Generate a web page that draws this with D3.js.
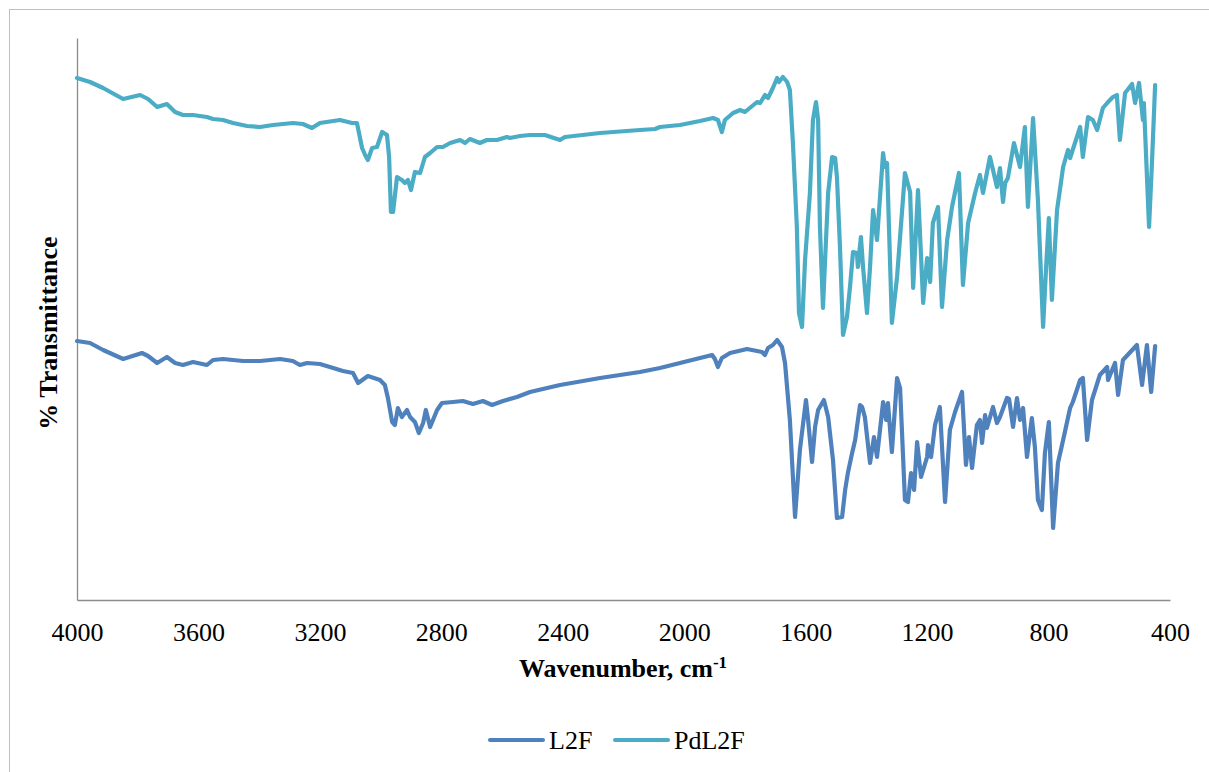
<!DOCTYPE html>
<html>
<head>
<meta charset="utf-8">
<script src="https://cdn.jsdelivr.net/npm/d3@7"></script>
<style>
  body { margin: 0; background: #fff; }
  svg text { font-family: "Liberation Serif", "Times New Roman", serif; fill: #000; }
</style>
</head>
<body>
<div id="chart"></div>
<script>
// ---- data (wavenumber cm-1, % transmittance, arbitrary offset) ----
const xTicks = [4000, 3600, 3200, 2800, 2400, 2000, 1600, 1200, 800, 400];
const seriesNames = ["L2F", "PdL2F"];

const l2fWn = [4000,3957,3914,3848,3786,3766,3736,3704,3677,3651,3618,3572,3552,3519,3453,3397,3331,3289,3266,3242,3200,
  3167,3124,3091,3074,3042,3002,2986,2976,2962,2953,2943,2930,2913,2903,2887,2874,2860,2851,2837,2814,2798,2762,2729,2696,
  2663,2633,2597,2551,2508,2409,2277,2146,2080,2014,1948,1908,1899,1889,1876,1849,1793,1744,1734,1724,1708,1694,1678,1668,
  1652,1635,1619,1599,1592,1579,1569,1559,1540,1526,1510,1497,1480,1470,1461,1447,1437,1421,1414,1405,1388,1375,1365,1345,
  1335,1329,1316,1299,1289,1273,1263,1253,1243,1233,1220,1200,1197,1187,1174,1158,1141,1125,1108,1085,1072,1062,1052,1036,
  1026,1019,1009,1003,983,970,960,937,930,917,904,894,884,871,855,845,835,822,812,799,785,769,752,729,720,696,687,673,657,
  631,607,604,581,571,555,509,492,476,462,449];
const l2fT = [25.9,25.7,25.0,24.1,24.7,24.4,23.7,24.3,23.7,23.5,23.8,23.5,24.0,24.1,23.9,23.9,24.1,23.9,23.5,23.7,23.6,
  23.3,22.9,22.7,21.7,22.4,22.0,21.5,20.2,17.8,17.5,19.2,18.3,19.0,18.3,17.8,16.7,17.7,19.0,17.3,19.0,19.7,19.8,19.9,19.6,
  19.9,19.5,19.9,20.3,20.8,21.5,22.2,22.8,23.2,23.7,24.2,24.5,24.1,23.3,24.2,24.7,25.1,24.8,24.5,25.2,25.5,26.0,25.3,23.7,
  18.0,8.3,15.0,20.0,18.0,13.8,17.3,19.0,20.0,18.3,14.0,8.2,8.3,11.0,12.7,14.7,16.0,19.5,19.3,18.3,13.7,16.3,14.3,19.8,
  18.0,19.7,14.8,22.2,21.2,10.0,9.8,12.7,11.0,15.8,12.3,14.3,15.5,14.3,17.5,19.3,9.8,17.0,18.8,20.8,13.5,16.3,13.2,17.5,
  18.0,15.7,18.5,17.2,19.3,17.7,18.3,20.2,20.1,17.3,20.2,18.0,19.2,14.3,18.2,15.3,10.0,9.0,14.7,17.8,7.2,13.7,16.0,19.2,19.8,22.0,22.2,16.0,20.0,
  22.5,23.3,22.0,23.7,20.5,24.0,25.5,21.5,25.5,20.8,25.4];

const pdWn = [4000,3957,3914,3848,3792,3766,3736,3704,3677,3651,3618,3572,3552,3519,3486,3440,3397,3354,3289,3256,3226,3200,
  3134,3094,3078,3061,3051,3042,3028,3012,2995,2979,2972,2966,2959,2946,2930,2920,2910,2900,2887,2870,2854,2837,2814,2795,
  2771,2738,2722,2706,2673,2650,2617,2584,2574,2541,2508,2459,2409,2393,2277,2146,2096,2080,2014,1948,1905,1889,1876,1866,
  1839,1816,1800,1760,1750,1734,1724,1708,1694,1688,1675,1661,1652,1642,1629,1622,1612,1602,1586,1576,1566,1559,1553,1543,
  1536,1526,1513,1503,1497,1487,1477,1464,1454,1444,1431,1428,1418,1411,1398,1388,1378,1365,1345,1339,1332,1316,1299,1273,
  1256,1246,1230,1213,1200,1190,1181,1164,1151,1134,1118,1095,1082,1065,1042,1026,1016,993,983,970,960,950,943,934,914,894,
  878,868,851,835,818,808,799,789,772,752,736,729,696,687,670,654,640,621,604,588,575,565,548,525,515,502,489,486,469,459,449];
const pdT = [52.2,51.8,51.2,50.1,50.5,50.1,49.3,49.6,48.8,48.5,48.5,48.3,48.1,48.0,47.7,47.4,47.3,47.5,47.7,47.6,47.2,47.7,
  48.0,47.7,47.7,45.2,44.5,44.0,45.2,45.3,46.8,46.5,44.3,38.8,38.8,42.3,42.0,41.7,42.0,41.0,42.8,42.7,44.3,44.7,45.3,45.3,
  45.7,46.0,45.7,46.1,45.7,46.0,46.0,46.3,46.2,46.4,46.5,46.5,46.0,46.3,46.7,47.0,47.1,47.3,47.5,47.9,48.2,48.0,46.8,48.0,
  48.7,49.0,48.8,49.8,49.7,50.5,50.2,51.2,52.2,51.8,52.3,51.8,51.0,45.7,37.3,28.7,27.3,34.0,40.7,48.0,49.8,48.0,37.3,29.2,
  34.0,40.7,44.3,44.2,42.3,35.3,26.5,28.3,31.3,34.8,34.7,33.3,36.3,33.3,28.7,33.3,39.0,36.0,44.7,43.3,43.7,27.7,32.3,42.7,
  40.8,31.2,41.0,29.7,34.2,31.8,37.7,39.3,29.3,36.0,39.3,42.7,31.5,37.7,40.7,42.5,40.7,44.3,43.0,41.3,43.2,39.8,41.7,42.2,45.7,43.3,
  47.3,39.3,48.2,40.0,27.3,33.3,38.2,30.0,39.0,43.3,45.0,44.2,47.3,44.3,48.3,48.0,47.0,49.2,49.8,50.3,50.5,46.0,50.7,51.6,49.7,51.7,48.0,49.7,37.3,44.0,51.5];

const colors = { "L2F": "#4F81BD", "PdL2F": "#4BACC6" };

// ---- layout ----
const W = 1209, H = 772;
const plot = { left: 77, right: 1170, top: 38, bottom: 600 };

const svg = d3.select("#chart").append("svg")
  .attr("width", W).attr("height", H);

// outer chart border
svg.append("rect")
  .attr("x", 9.5).attr("y", 9.5)
  .attr("width", 1215).attr("height", 790)
  .attr("fill", "none").attr("stroke", "#bfbfbf").attr("stroke-width", 1);

const x = d3.scaleLinear().domain([4000, 400]).range([plot.left, plot.right]);
const y = d3.scaleLinear().domain([0, 56.2]).range([plot.bottom, plot.top]);

// x axis: line + labels, no tick marks
const xAxis = svg.append("g")
  .attr("transform", `translate(0,${plot.bottom})`)
  .call(d3.axisBottom(x).tickValues(xTicks).tickSize(0).tickPadding(23).tickFormat(d3.format("d")));
xAxis.select(".domain").attr("stroke", "#8c8c8c").attr("stroke-width", 1.3);
xAxis.selectAll("text")
  .style("font-size", "26px")
  .style("font-family", "'Liberation Serif', serif")
  .attr("fill", "#000");

// y axis: just the line
const yAxis = svg.append("g")
  .attr("transform", `translate(${plot.left},0)`)
  .call(d3.axisLeft(y).tickValues([]).tickSize(0));
yAxis.select(".domain").attr("stroke", "#8c8c8c").attr("stroke-width", 1.3);

// axis titles
const xTitle = svg.append("text")
  .attr("x", 623).attr("y", 677)
  .attr("text-anchor", "middle")
  .style("font-size", "26px").style("font-weight", "bold");
xTitle.append("tspan").text("Wavenumber, cm");
xTitle.append("tspan").attr("dy", -9).style("font-size", "17px").text("-1");

svg.append("text")
  .attr("transform", "translate(57,333) rotate(-90)")
  .attr("text-anchor", "middle")
  .style("font-size", "26px").style("font-weight", "bold")
  .text("% Transmittance");

// ---- spectra ----
const line = d3.line().x(d => x(d[0])).y(d => y(d[1]));
const series = [
  { name: "L2F", pts: d3.zip(l2fWn, l2fT) },
  { name: "PdL2F", pts: d3.zip(pdWn, pdT) }
];

svg.append("g")
  .selectAll("path")
  .data(series)
  .join("path")
    .attr("d", d => line(d.pts))
    .attr("fill", "none")
    .attr("stroke", d => colors[d.name])
    .attr("stroke-width", 4.2)
    .attr("stroke-linejoin", "round")
    .attr("stroke-linecap", "round");

// ---- legend ----
const legend = svg.append("g").attr("transform", "translate(490,740)");
seriesNames.forEach((k, i) => {
  const g = legend.append("g").attr("transform", `translate(${i * 125},0)`);
  g.append("line")
    .attr("x1", 0).attr("x2", 53)
    .attr("y1", 0).attr("y2", 0)
    .attr("stroke", colors[k]).attr("stroke-width", 4)
    .attr("stroke-linecap", "round");
  g.append("text")
    .attr("x", 59).attr("y", 9)
    .style("font-size", "26px")
    .text(k);
});
</script>
</body>
</html>
